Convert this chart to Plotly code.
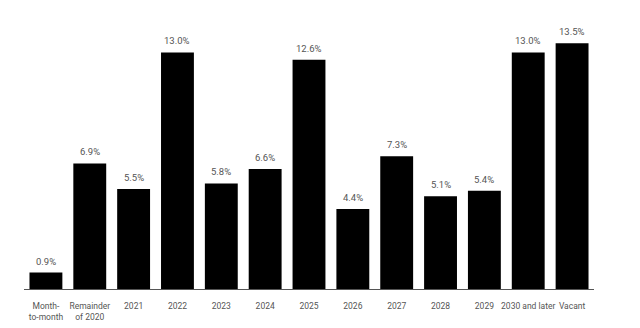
import plotly.graph_objects as go

categories = ["Month-<br>to-month", "Remainder<br>of 2020", "2021", "2022", "2023", "2024",
              "2025", "2026", "2027", "2028", "2029", "2030 and later", "Vacant"]
values = [0.9, 6.9, 5.5, 13.0, 5.8, 6.6, 12.6, 4.4, 7.3, 5.1, 5.4, 13.0, 13.5]
labels = [f"{v:.1f}%" for v in values]

FONT = "Roboto, Inter, sans-serif"

fig = go.Figure(go.Bar(
    x=categories, y=values,
    marker=dict(color="#000000", line=dict(width=0)),
    cliponaxis=False, hoverinfo="skip",
))
for i, (v, t) in enumerate(zip(values, labels)):
    fig.add_annotation(x=i, y=v, text=t, showarrow=False, yanchor="bottom", yshift=4,
                       font=dict(family=FONT, size=9.5, color="#555555"))
fig.update_layout(
    width=640, height=328,
    margin=dict(l=24, r=46, t=10, b=39),
    paper_bgcolor="white", plot_bgcolor="white",
    bargap=0.25, showlegend=False,
    font=dict(family=FONT, size=9, color="#555555"),
)
fig.update_xaxes(type="category", range=[-0.5, len(categories) - 0.5],
                 showline=True, linecolor="#555555", linewidth=1, ticks="",
                 tickangle=0, automargin=False, ticklabelstandoff=9,
                 tickfont=dict(family=FONT, size=8.5, color="#555555"), showgrid=False)
fig.update_yaxes(visible=False, range=[0, 15.33])
fig.write_html("out.html")
